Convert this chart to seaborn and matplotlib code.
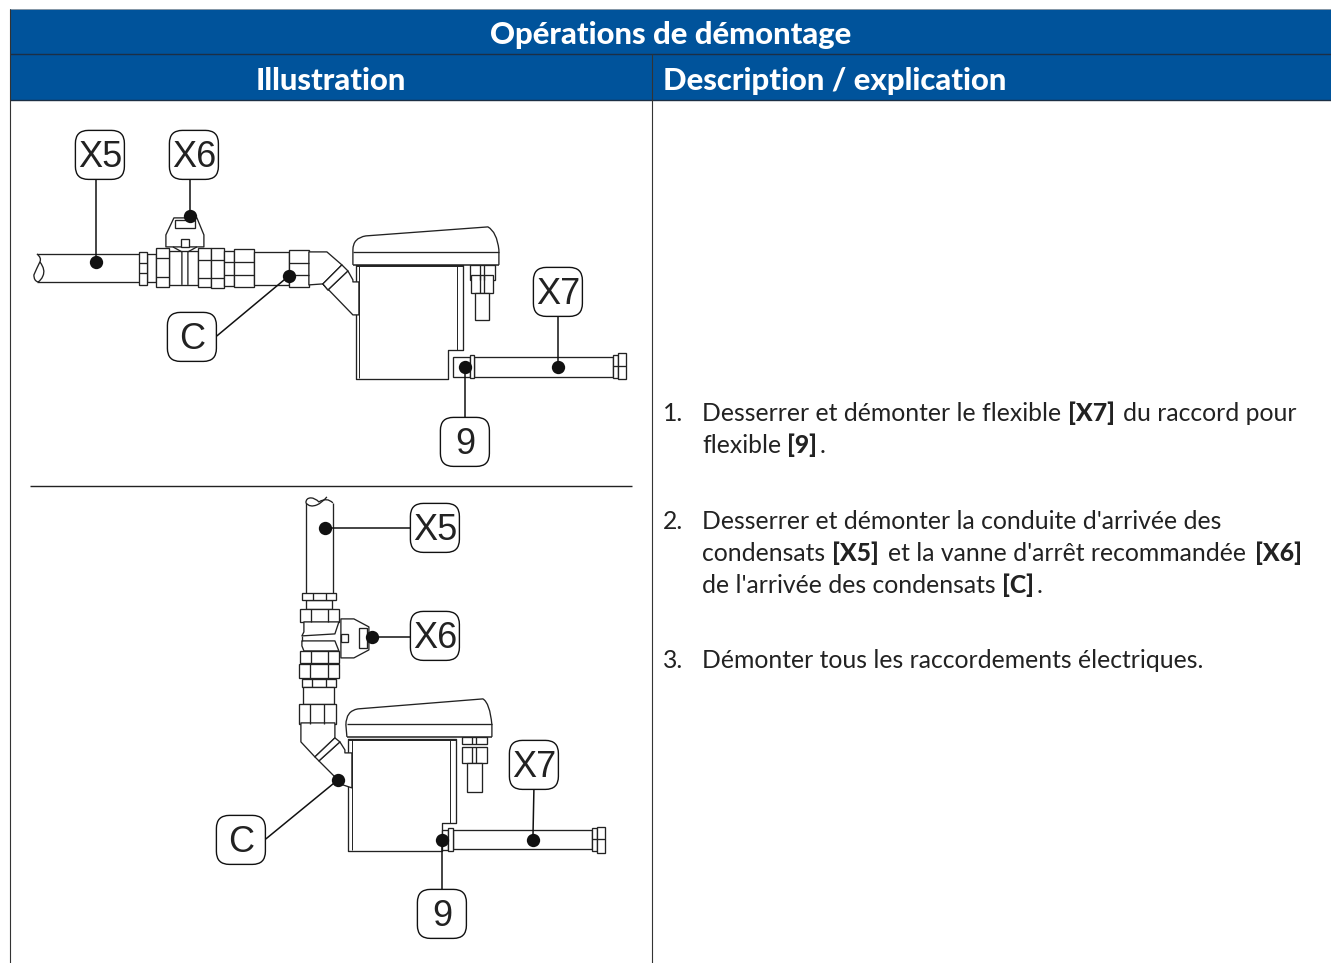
import matplotlib
matplotlib.use("Agg")
import matplotlib.pyplot as plt
import seaborn as sns
import pandas as pd
from matplotlib.patches import Rectangle, Polygon, PathPatch, FancyBboxPatch
from matplotlib.path import Path

W, H = 1331, 963
BLUE = "#00539B"
INK = "#222222"
FONT = "Lato"
HEAVY = 900

TITLE = "Opérations de démontage"
HEAD_LEFT = "Illustration"
HEAD_RIGHT = "Description / explication"

# body text: (number, baseline, segments (x, text, bold))
STEPS = [
    ("1.", 421, [(702, "Desserrer et démonter le flexible", False), (1068, "[X7]", True), (1123, "du raccord pour", False)]),
    (None, 453, [(702, "flexible", False), (787, "[9]", True), (820, ".", False)]),
    ("2.", 529, [(702, "Desserrer et démonter la conduite d'arrivée des", False)]),
    (None, 561, [(702, "condensats", False), (832, "[X5]", True), (888, "et la vanne d'arrêt recommandée", False), (1255, "[X6]", True)]),
    (None, 593, [(702, "de l'arrivée des condensats", False), (1002, "[C]", True), (1037, ".", False)]),
    ("3.", 668, [(702, "Démonter tous les raccordements électriques.", False)]),
]

# callouts: label, box centre, dot, leader start on the box
CALL_LABELS = ["X5", "X6", "C", "9", "X7", "X5", "X6", "C", "9", "X7"]
CALL_CX = [100, 194, 192, 465, 558, 435, 435, 241, 442, 534]
CALL_CY = [155, 155, 337, 442, 292, 528, 636, 840, 914, 765]
DOT_X = [96, 190, 289, 465, 558, 325, 372, 338, 442, 533]
DOT_Y = [262, 216, 276, 367, 367, 528, 637, 780, 840, 840]
LEAD_X = [96, 190, 217, 465, 558, 411, 411, 266, 442, 534]
LEAD_Y = [180, 180, 336, 417, 317, 528, 637, 839, 889, 790]

# horizontal fitting: x0, x1, y0, y1, inner lines
TOP_PARTS = [
    (147, 156, 254, 282, []),
    (139, 147, 252, 285, [263, 273]),
    (169, 198, 251, 285, []),
    (156, 169, 248, 287, [258, 277]),
    (198, 211, 248, 287, [260, 278]),
    (211, 224, 248, 288, [260, 278]),
    (224, 234, 251, 286, [262, 275]),
    (234, 254, 249, 287, [262, 275]),
    (254, 289, 252, 285, []),
    (289, 309, 250, 287, [263, 275]),
]
# vertical fitting: x0, x1, y0, y1, inner lines
BOTTOM_PARTS = [
    (306, 332, 600, 609, []),
    (302, 336, 593, 600, [313, 326]),
    (300, 339, 609, 622, [311, 328]),
    (300, 339, 651, 663, [311, 328]),
    (299, 339, 664, 678, [310, 328]),
    (302, 336, 679, 687, [312, 326]),
    (303, 334, 687, 704, []),
    (299, 336, 704, 724, [310, 324]),
]

TOP_POLYS = [
    [(166, 247), (166, 235), (174, 218), (197, 218), (204, 235), (204, 247)],
    [(309, 252), (327, 252), (342, 265), (323, 284), (309, 285)],
    [(323, 284), (353, 315), (359, 315), (359, 282), (353, 282), (353, 280), (348, 271), (328, 290)],
    [(342, 265), (348, 271), (328, 290), (323, 284)],
]
BOTTOM_POLYS = [
    [(304, 622), (339, 622), (335, 634), (302, 636), (304, 632)],
    [(302, 641), (335, 641), (339, 651), (304, 651), (302, 646)],
    [(341, 619), (354, 619), (369, 627), (369, 650), (354, 658), (341, 658)],
    [(301, 723), (335, 723), (335, 738), (315, 757), (301, 742)],
    [(319, 761), (343, 785), (352, 788), (352, 753), (345, 753), (345, 750), (340, 742)],
    [(315, 757), (335, 738), (340, 742), (319, 761)],
]
TOP_RECTS = [(175, 220, 195, 228), (181, 239, 189, 247)]
BOTTOM_RECTS = [(359, 628, 367, 648), (341, 634, 348, 642)]
# valve stem lines on the horizontal fitting
STEM_LINES = [
    [(173, 247), (182, 252), (182, 285)],
    [(197, 247), (188, 252), (188, 285)],
    [(302, 636), (302, 641)],
]
# pipe outlines with a cut end
PIPE_TOP_LINES = [[(37, 254), (139, 254)], [(37, 282), (139, 282)],
                  [(306, 503), (306, 593)], [(333, 503), (333, 593)]]
CUT_ENDS = [
    [(37, 254), (42, 258), (40, 262), (37, 268), (34, 275), (34, 281), (38, 282)],
    [(40, 262), (46, 270), (43, 276), (41, 281), (38, 282)],
    [(306, 503), (306, 498), (311, 498), (315, 498), (319, 502), (327, 497), (333, 503)],
    [(306, 503), (310, 508), (317, 505), (322, 503), (327, 497)],
]

# device: cap left/top/right, body, gland, cable, hose
DEVICES = [
    dict(cap=[(353, 265), (353, 250), (353, 238), (366, 236), (488, 227), (497, 232), (499, 250), (499, 265)],
         capline=252, body=(356, 359, 448, 457, 463, 265, 350, 379),
         gland=[(470, 265, 495, 280), (471, 275, 493, 293)], cable=(475, 489, 293, 320),
         fit=(453, 470, 357, 377), collar=(470, 474, 355, 378), hose=(474, 613, 357, 377),
         end=(613, 618, 355, 378), nut=(618, 626, 353, 379)),
    dict(cap=[(347, 737), (346, 725), (346, 711), (358, 709), (483, 699), (490, 703), (492, 725), (492, 737)],
         capline=724, body=(348, 352, 442, 450, 456, 739, 823, 851),
         gland=[(462, 737, 487, 744), (462, 747, 487, 763)], cable=(467, 482, 763, 792),
         fit=(442, 448, 830, 850), collar=(448, 453, 828, 851), hose=(453, 592, 830, 849),
         end=(592, 597, 828, 851), nut=(597, 605, 827, 853)),
]

sns.set_theme(style="white", rc={"figure.facecolor": "white", "axes.facecolor": "white"})
plt.rcParams["font.family"] = [FONT, "DejaVu Sans"]

fig = plt.figure(figsize=(W / 100, H / 100), dpi=100)
ax = fig.add_axes([0, 0, 1, 1])
XL, YL = (0.1, W + 0.1), (H + 0.1, 0.1)
ax.set_xlim(*XL)
ax.set_ylim(*YL)
ax.axis("off")
LW = 0.95


def rect(x0, y0, x1, y1, z=3, lw=LW, fc="white", ec=INK):
    ax.add_patch(Rectangle((x0, y0), x1 - x0, y1 - y0, fc=fc, ec=ec, lw=lw, zorder=z))


def seg(x, y, z=4, lw=LW, c=INK):
    ax.plot(x, y, color=c, lw=lw, zorder=z, solid_capstyle="butt")


def poly(p, z=3):
    ax.add_patch(Polygon(p, closed=True, fc="white", ec=INK, lw=LW, zorder=z, joinstyle="round"))


def fit_size(text, weight, width):
    t = ax.text(0, 0, text, fontsize=20, fontweight=weight, family=FONT)
    w = t.get_window_extent(fig.canvas.get_renderer()).width
    t.remove()
    return 20 * width / w


# header
ax.add_patch(Rectangle((9.6, 9), W - 9, 91.5, fc=BLUE, ec="none", zorder=1))
seg([9.6, W + 1], [9, 9], z=2, c="#8a9aa8", lw=0.7)
seg([9.6, W + 1], [54.6, 54.6], z=2, c="#1c2f45", lw=1.0)
seg([9.6, W + 1], [100.6, 100.6], z=2, c="#1c2f45", lw=1.0)
seg([652.1, 652.1], [54.6, H + 1], z=2, c="#333333", lw=0.8)
seg([9.6, 9.6], [9, H + 1], z=2, c="#333333", lw=0.8)
seg([30, 632], [486, 486], z=2, c="#222222", lw=1.0)

head_size = fit_size(TITLE, HEAVY, 362)
ax.text(671, 44, TITLE, color="white", fontsize=head_size, fontweight=HEAVY, ha="center", va="baseline")
ax.text(331, 90, HEAD_LEFT, color="white", fontsize=head_size, fontweight=HEAVY, ha="center", va="baseline")
ax.text(663, 90, HEAD_RIGHT, color="white", fontsize=head_size, fontweight=HEAVY, ha="left", va="baseline")

# body
body_size = fit_size("Desserrer et démonter le flexible", "normal", 359)
for num, base, segs in STEPS:
    if num:
        ax.text(663, base, num, color=INK, fontsize=body_size, va="baseline")
    for x, s, bold in segs:
        ax.text(x, base, s, color=INK, fontsize=body_size, va="baseline",
                fontweight=HEAVY if bold else "normal")

# fittings
for x0, x1, y0, y1, inner in TOP_PARTS:
    rect(x0, y0, x1, y1)
    for yy in inner:
        seg([x0, x1], [yy, yy])
for x0, x1, y0, y1, inner in BOTTOM_PARTS:
    rect(x0, y0, x1, y1)
    for xx in inner:
        seg([xx, xx], [y0, y1])
for p in TOP_POLYS + BOTTOM_POLYS:
    poly(p)
for x0, y0, x1, y1 in TOP_RECTS + BOTTOM_RECTS:
    rect(x0, y0, x1, y1, z=5)
for line in STEM_LINES + PIPE_TOP_LINES:
    seg([p[0] for p in line], [p[1] for p in line], z=4.5)
for end in CUT_ENDS:
    codes = [Path.MOVETO] + [Path.CURVE3] * (len(end) - 1)
    ax.add_patch(PathPatch(Path(end, codes), fc="none", ec=INK, lw=LW, zorder=4))

# devices
for d in DEVICES:
    xl0, xl1, xf, xr0, xr1, yt, ys, yb = d["body"]
    for x0, y0, x1, y1 in d["gland"]:
        rect(x0, y0, x1, y1)
        seg([(x0 + x1) / 2 - 2] * 2, [y0, y1])
        seg([(x0 + x1) / 2 + 2] * 2, [y0, y1])
    cx0, cx1, cy0, cy1 = d["cable"]
    rect(cx0, cy0, cx1, cy1)
    # body outline
    poly([(xl0, yt), (xr1, yt), (xr1, ys), (xf, ys), (xf, yb), (xl0, yb)], z=2.5)
    seg([xl1, xl1], [yt, yb - 1], z=4, lw=0.7)
    seg([xr0, xr0], [yt, ys], z=4, lw=0.7)
    seg([xl0, xr1], [yt + 1.5, yt + 1.5], z=4, lw=0.7)
    # hose
    for key in ("fit", "hose", "collar", "end", "nut"):
        x0, x1, y0, y1 = d[key]
        rect(x0, y0, x1, y1, z=3.2)
    ym = (d["end"][2] + d["end"][3]) / 2
    seg([d["end"][0], d["nut"][1]], [ym, ym], z=4)
    # cap
    c = d["cap"]
    ax.add_patch(PathPatch(Path(c, [Path.MOVETO, Path.LINETO, Path.CURVE3, Path.CURVE3, Path.LINETO,
                                    Path.CURVE3, Path.CURVE3, Path.LINETO]),
                           fc="white", ec=INK, lw=LW, zorder=3))
    seg([c[0][0], c[-1][0]], [d["capline"], d["capline"]], z=4)
    seg([c[0][0], c[-1][0]], [c[0][1], c[-1][1]], z=4, lw=1.1)

# leader lines and dots through seaborn
for lx, ly, dx, dy in zip(LEAD_X, LEAD_Y, DOT_X, DOT_Y):
    df = pd.DataFrame({"x": [lx, dx], "y": [ly, dy]})
    sns.lineplot(data=df, x="x", y="y", ax=ax, color="#111111", lw=1.1, sort=False,
                 estimator=None, legend=False, zorder=6)
sns.scatterplot(x=DOT_X, y=DOT_Y, ax=ax, color="#111111", s=92, linewidth=0, zorder=7, legend=False)
ax.set_xlim(*XL)
ax.set_ylim(*YL)
ax.axis("off")

# callout boxes
for lab, cx, cy in zip(CALL_LABELS, CALL_CX, CALL_CY):
    ax.add_patch(FancyBboxPatch((cx - 24.5 + 13, cy - 24.5 + 13), 23, 23,
                                boxstyle="round,pad=13,rounding_size=13",
                                fc="white", ec="#111111", lw=1.0, zorder=8))
    ax.text(cx, cy - 1, lab, family="Liberation Sans", fontsize=26, color="#222222",
            ha="center", va="center_baseline", zorder=9)

fig.savefig("out.png", dpi=100)
